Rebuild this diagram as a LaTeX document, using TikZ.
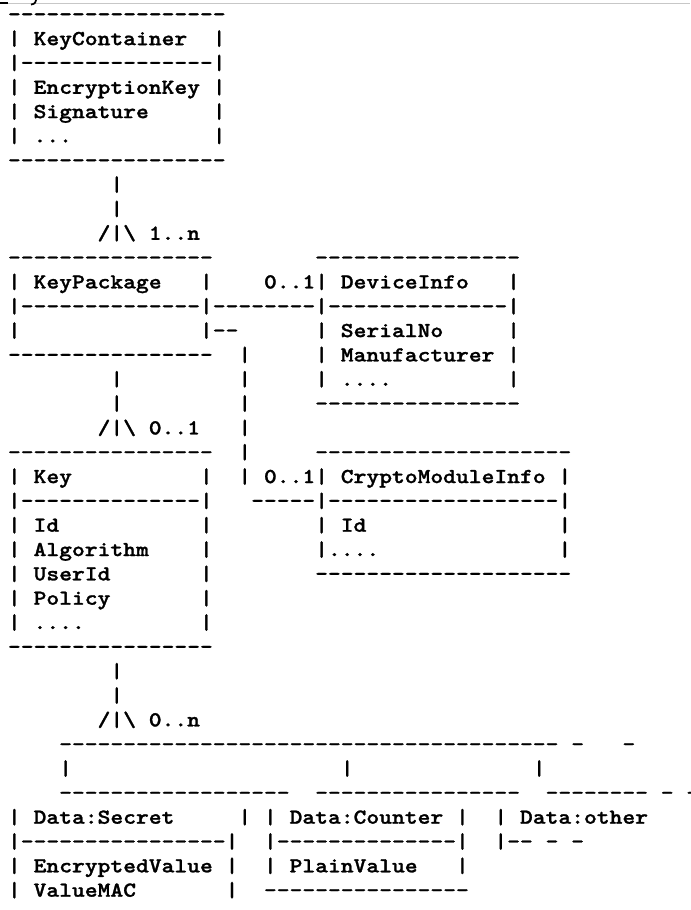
\documentclass[tikz,border=0pt]{standalone}
\usepackage{graphicx}
\usepackage{fontspec}
\newfontfamily\asciifont{lmmonolt10-bold.otf}[FakeBold=1.2]
\newcommand\arow[4]{\node[txt] (#1) at ({8+12.8*(#2)},{20.8+24.33*(#3)}) {\scalebox{1.143}[1]{#4}};}
\newcommand\bs{\textbackslash}
\begin{document}
\begin{tikzpicture}[x=0.75pt,y=-0.75pt,
  txt/.style={font=\asciifont\fontsize{16pt}{18pt}\selectfont, anchor=base west, inner sep=0pt, outer sep=0pt, text=black},
  rule/.style={draw=black!22, line width=1.2pt}]
\useasboundingbox (0,0) rectangle (690,910);
% top page edge remnants
\coordinate (ruleL) at (0,3.3);
\coordinate (ruleR) at (690,3.3);
\draw[rule] (ruleL) -- (ruleR);
\coordinate (usA) at (0,3.3);
\coordinate (usB) at (8,3.3);
\draw[black, line width=1.3pt] (usA) -- (usB);
\coordinate (yA) at (36,0);
\coordinate (yB) at (31,4.6);
\draw[black, line width=1.3pt] (yA) .. controls (35,3.5) .. (yB);
% KeyContainer
\arow{r0}{0}{0}{-----------------}
\arow{r1}{0}{1}{|~KeyContainer~~|}
\arow{r2}{0}{2}{|---------------|}
\arow{r3}{0}{3}{|~EncryptionKey~|}
\arow{r4}{0}{4}{|~Signature~~~~~|}
\arow{r5}{0}{5}{|~...~~~~~~~~~~~|}
\arow{r6}{0}{6}{-----------------}
\arow{r7}{8}{7}{|}
\arow{r8}{8}{8}{|}
\arow{r9}{7}{9}{/|\bs~1..n}
% KeyPackage / DeviceInfo
\arow{r10a}{0}{10}{----------------}
\arow{r10b}{24}{10}{----------------}
\arow{r11a}{0}{11}{|~KeyPackage~~~|}
\arow{r11b}{20}{11}{0..1|~DeviceInfo~~~|}
\arow{r12}{0}{12}{|--------------|--------|--------------|}
\arow{r13a}{0}{13}{|~~~~~~~~~~~~~~|--}
\arow{r13b}{24}{13}{|~SerialNo~~~~~|}
\arow{r14a}{0}{14}{----------------}
\arow{r14b}{18}{14}{|}
\arow{r14c}{24}{14}{|~Manufacturer~|}
\arow{r15a}{8}{15}{|}
\arow{r15b}{18}{15}{|}
\arow{r15c}{24}{15}{|~....~~~~~~~~~|}
\arow{r16a}{8}{16}{|}
\arow{r16b}{18}{16}{|}
\arow{r16c}{24}{16}{----------------}
\arow{r17a}{7}{17}{/|\bs~0..1}
\arow{r17b}{18}{17}{|}
% Key / CryptoModuleInfo
\arow{r18a}{0}{18}{----------------}
\arow{r18b}{18}{18}{|}
\arow{r18c}{24}{18}{--------------------}
\arow{r19a}{0}{19}{|~Key~~~~~~~~~~|}
\arow{r19b}{18}{19}{|~0..1|~CryptoModuleInfo~|}
\arow{r20a}{0}{20}{|--------------|}
\arow{r20b}{19}{20}{-----|------------------|}
\arow{r21a}{0}{21}{|~Id~~~~~~~~~~~|}
\arow{r21b}{24}{21}{|~Id~~~~~~~~~~~~~~~|}
\arow{r22a}{0}{22}{|~Algorithm~~~~|}
\arow{r22b}{24}{22}{|....~~~~~~~~~~~~~~|}
\arow{r23a}{0}{23}{|~UserId~~~~~~~|}
\arow{r23b}{24}{23}{--------------------}
\arow{r24}{0}{24}{|~Policy~~~~~~~|}
\arow{r25}{0}{25}{|~....~~~~~~~~~|}
\arow{r26}{0}{26}{----------------}
\arow{r27}{8}{27}{|}
\arow{r28}{8}{28}{|}
\arow{r29}{7}{29}{/|\bs~0..n}
% Data
\arow{r30}{4}{30}{---------------------------------------~-~~~-}
\arow{r31a}{4}{31}{|}
\arow{r31b}{26}{31}{|}
\arow{r31c}{41}{31}{|}
\arow{r32a}{4}{32}{------------------}
\arow{r32b}{24}{32}{----------------}
\arow{r32c}{42}{32}{--------~-~-}
\arow{r33a}{0}{33}{|~Data:Secret~~~~~|}
\arow{r33b}{20}{33}{|~Data:Counter~|}
\arow{r33c}{38}{33}{|~Data:other}
\arow{r34a}{0}{34}{|----------------|}
\arow{r34b}{20}{34}{|--------------|}
\arow{r34c}{38}{34}{|--~-~-}
\arow{r35a}{0}{35}{|~EncryptedValue~|}
\arow{r35b}{20}{35}{|~PlainValue~~~|}
\arow{r36a}{0}{36}{|~ValueMAC~~~~~~~|}
\arow{r36b}{20}{36}{----------------}
\end{tikzpicture}
\end{document}
